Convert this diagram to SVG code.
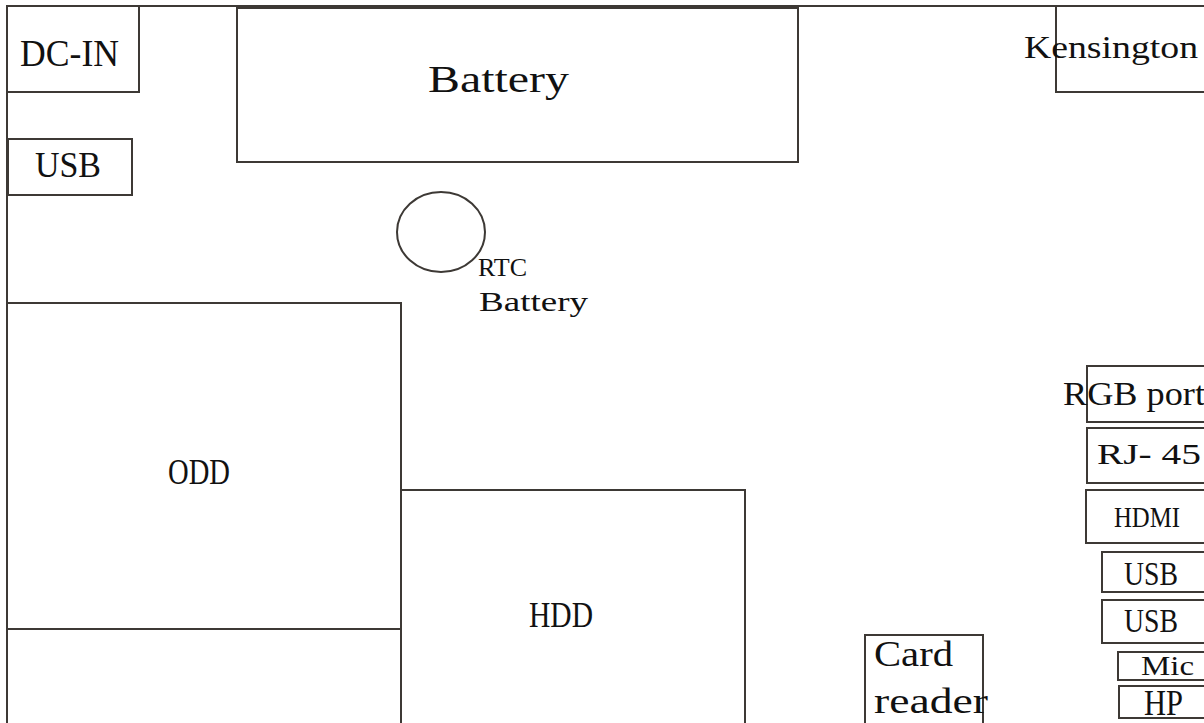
<svg xmlns="http://www.w3.org/2000/svg" width="1204" height="723" viewBox="0 0 1204 723">
<style>
.b{fill:none;stroke:#3d3935;stroke-width:2}
.t{font-family:"Liberation Serif","DejaVu Serif",serif;fill:#111}
</style>
<rect width="1204" height="723" fill="#fff"/>
<g id="frame">
<line class="b" x1="7" y1="6" x2="1204" y2="6"/>
<line class="b" x1="7" y1="6" x2="7" y2="723"/>
<line class="b" x1="401" y1="303" x2="401" y2="723"/>
</g>
<g id="dcin"><rect class="b" x="7" y="6" width="132" height="86"/><text class="t" x="20" y="66" font-size="37" textLength="99" lengthAdjust="spacingAndGlyphs">DC-IN</text></g>
<g id="usb-left"><rect class="b" x="8" y="139" width="124" height="56"/><text class="t" x="35" y="177" font-size="35" textLength="66" lengthAdjust="spacingAndGlyphs">USB</text></g>
<g id="battery"><rect class="b" x="237" y="8" width="561" height="154"/><text class="t" x="428" y="92" font-size="38" textLength="141" lengthAdjust="spacingAndGlyphs">Battery</text></g>
<g id="kensington"><rect class="b" x="1056" y="6" width="160" height="86"/><text class="t" x="1024" y="58" font-size="32" textLength="174" lengthAdjust="spacingAndGlyphs">Kensington</text></g>
<g id="rtc"><ellipse class="b" cx="441" cy="232" rx="44" ry="40"/><text class="t" x="478" y="276" font-size="26" textLength="49" lengthAdjust="spacingAndGlyphs">RTC</text><text class="t" x="479" y="311" font-size="27" textLength="109" lengthAdjust="spacingAndGlyphs">Battery</text></g>
<g id="odd"><rect class="b" x="7" y="303" width="394" height="326"/><text class="t" x="168" y="484" font-size="35" textLength="62" lengthAdjust="spacingAndGlyphs">ODD</text></g>
<g id="hdd"><rect class="b" x="401" y="490" width="344" height="240"/><text class="t" x="529" y="627" font-size="35" textLength="64" lengthAdjust="spacingAndGlyphs">HDD</text></g>
<g id="cardreader"><rect class="b" x="865" y="635" width="118" height="100"/><text class="t" x="874" y="666" font-size="35" textLength="79" lengthAdjust="spacingAndGlyphs">Card</text><text class="t" x="874" y="713" font-size="35" textLength="114" lengthAdjust="spacingAndGlyphs">reader</text></g>
<g id="rgb"><rect class="b" x="1087" y="366" width="130" height="56"/><text class="t" x="1063" y="405" font-size="33" textLength="142" lengthAdjust="spacingAndGlyphs">RGB port</text></g>
<g id="rj45"><rect class="b" x="1087" y="428" width="130" height="55"/><text class="t" x="1097" y="464" font-size="29" textLength="104" lengthAdjust="spacingAndGlyphs">RJ- 45</text></g>
<g id="hdmi"><rect class="b" x="1086" y="490" width="130" height="53"/><text class="t" x="1114" y="527" font-size="30" textLength="66" lengthAdjust="spacingAndGlyphs">HDMI</text></g>
<g id="usb1"><rect class="b" x="1102" y="552" width="120" height="40"/><text class="t" x="1124" y="585" font-size="33" textLength="54" lengthAdjust="spacingAndGlyphs">USB</text></g>
<g id="usb2"><rect class="b" x="1102" y="600" width="120" height="43"/><text class="t" x="1124" y="632" font-size="33" textLength="54" lengthAdjust="spacingAndGlyphs">USB</text></g>
<g id="mic"><rect class="b" x="1118" y="652" width="100" height="28"/><text class="t" x="1141" y="675" font-size="27" textLength="53" lengthAdjust="spacingAndGlyphs">Mic</text></g>
<g id="hp"><rect class="b" x="1119" y="686" width="100" height="32"/><text class="t" x="1144" y="715" font-size="35" textLength="39" lengthAdjust="spacingAndGlyphs">HP</text></g>
<g id="connectors"></g>
</svg>
